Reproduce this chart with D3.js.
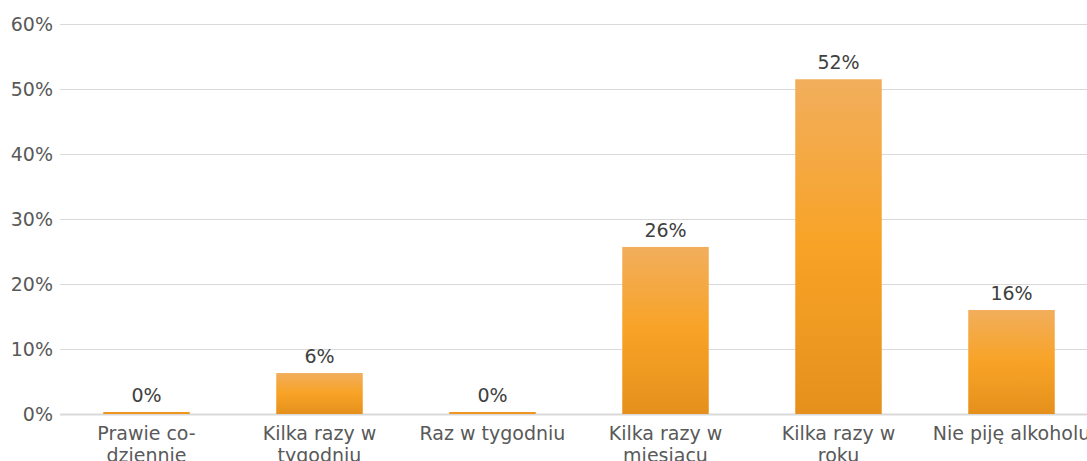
<!DOCTYPE html>
<html>
<head>
<meta charset="utf-8">
<script src="https://cdn.jsdelivr.net/npm/d3@7"></script>
<style>
  body { margin: 0; background: #fff; }
  svg { display: block; font-family: "DejaVu Sans", Verdana, sans-serif; }
</style>
</head>
<body>
<div id="chart"></div>
<script>
// chart data
const categories = [
	["Prawie co-", "dziennie"],
	["Kilka razy w", "tygodniu"],
	["Raz w tygodniu"],
	["Kilka razy w", "miesiącu"],
	["Kilka razy w", "roku"],
	["Nie piję alkoholu"]
];
const values = [0, 6.3, 0, 25.7, 51.5, 16.0];
const tickValues = [0, 10, 20, 30, 40, 50, 60];

const width = 1087, height = 461;
const margin = { top: 24, right: -11, bottom: 47, left: 60 };

const svg = d3.select('#chart')
	.append('svg')
	.attr('width', width)
	.attr('height', height);

const x = d3.scaleBand()
	.domain(d3.range(categories.length))
	.range([margin.left, width - margin.right])
	.paddingInner(0.5)
	.paddingOuter(0.25);

const y = d3.scaleLinear()
	.domain([0, 60])
	.range([height - margin.bottom, margin.top]);

// gradient like the office bar fill
const grad = svg.append('defs').append('linearGradient')
	.attr('id', 'barGrad')
	.attr('x1', 0).attr('y1', 0).attr('x2', 0).attr('y2', 1);
grad.append('stop').attr('offset', '0%').attr('stop-color', '#f2ae5c');
grad.append('stop').attr('offset', '50%').attr('stop-color', '#f8a326');
grad.append('stop').attr('offset', '100%').attr('stop-color', '#e5901c');

// gridlines + tick labels
const yAxis = svg.append('g')
	.attr('transform', `translate(${margin.left},0)`)
	.call(d3.axisLeft(y)
		.tickValues(tickValues)
		.tickSize(-(width - margin.left))
		.tickFormat(d => d + '%'));
yAxis.select('.domain').remove();
yAxis.selectAll('.tick line')
	.attr('stroke', '#d9d9d9')
	.attr('stroke-width', d => d === 0 ? 2 : 1);
yAxis.selectAll('.tick text')
	.attr('x', -7)
	.attr('fill', '#595959')
	.style('font-size', '19px')
	.style('font-family', '"DejaVu Sans", Verdana, sans-serif');

// bars (zero values still show a thin line)
svg.append('g')
	.selectAll('rect')
	.data(values)
	.enter()
	.append('rect')
	.attr('x', (d, i) => x(i))
	.attr('width', x.bandwidth())
	.attr('y', d => Math.min(y(d), y(0) - 2))
	.attr('height', d => Math.max(y(0) - y(d), 2))
	.attr('fill', d => d === 0 ? '#f0961e' : 'url(#barGrad)');

// value labels
svg.append('g')
	.selectAll('text')
	.data(values)
	.enter()
	.append('text')
	.attr('x', (d, i) => x(i) + x.bandwidth() / 2)
	.attr('y', d => Math.min(y(d), y(0) - 2) - 10)
	.attr('text-anchor', 'middle')
	.attr('fill', '#404040')
	.style('font-size', '19px')
	.text(d => Math.round(d) + '%');

// category labels, wrapped on two lines (cut at the bottom like the original)
const cat = svg.append('g')
	.selectAll('text')
	.data(categories)
	.enter()
	.append('text')
	.attr('text-anchor', 'middle')
	.attr('fill', '#595959')
	.style('font-size', '19px')
	.attr('x', (d, i) => x(i) + x.bandwidth() / 2)
	.attr('y', y(0) + 26);
cat.selectAll('tspan')
	.data(d => d)
	.enter()
	.append('tspan')
	.attr('x', function () { return this.parentNode.getAttribute('x'); })
	.attr('dy', (d, i) => i === 0 ? 0 : 22)
	.text(d => d);
</script>
</body>
</html>
